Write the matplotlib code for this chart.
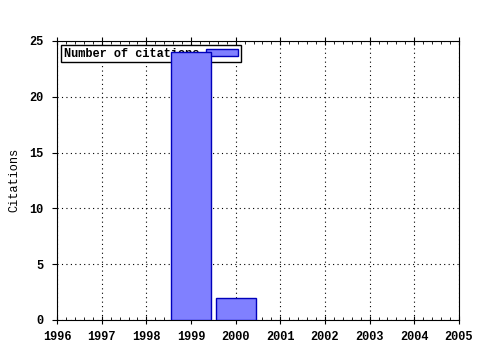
import numpy as np
import matplotlib
matplotlib.use('Agg')
import matplotlib.pyplot as plt
from matplotlib.ticker import MultipleLocator

years = [1999, 2000]
citations = [24, 2]

plt.rcParams['font.family'] = ['Liberation Mono', 'DejaVu Sans Mono']
plt.rcParams['font.weight'] = 'bold'
plt.rcParams['font.size'] = 8.6

fig = plt.figure(figsize=(4.8, 3.5), dpi=100)
ax = fig.add_axes([0.119, 0.086, 0.837, 0.797])

ax.bar(years, citations, width=0.9, color='#8080ff', edgecolor='#0000bb',
       linewidth=1, label='Number of citations', zorder=3)

ax.set_xlim(1996, 2005)
ax.set_ylim(0, 25)
ax.xaxis.set_major_locator(MultipleLocator(1))
ax.xaxis.set_minor_locator(MultipleLocator(0.2))
ax.yaxis.set_major_locator(MultipleLocator(5))
ax.tick_params(axis='x', which='major', direction='inout', length=6, pad=5, top=True)
ax.tick_params(axis='x', which='minor', direction='in', length=2.5, top=True)
ax.tick_params(axis='y', which='major', direction='out', length=3.5, pad=6)
ax.grid(True, which='major', linestyle=(0, (1, 3)), color='black', linewidth=0.8)
ax.set_ylabel('Citations', labelpad=7)

leg = ax.legend(loc='upper left', markerfirst=False, fancybox=False,
                framealpha=1, edgecolor='black', borderpad=0.2,
                handlelength=2.7, handleheight=0.5, handletextpad=0.6,
                borderaxespad=0.35)
leg.get_frame().set_linewidth(1)
leg.set_zorder(2)

fig.savefig('out.png', dpi=100)
